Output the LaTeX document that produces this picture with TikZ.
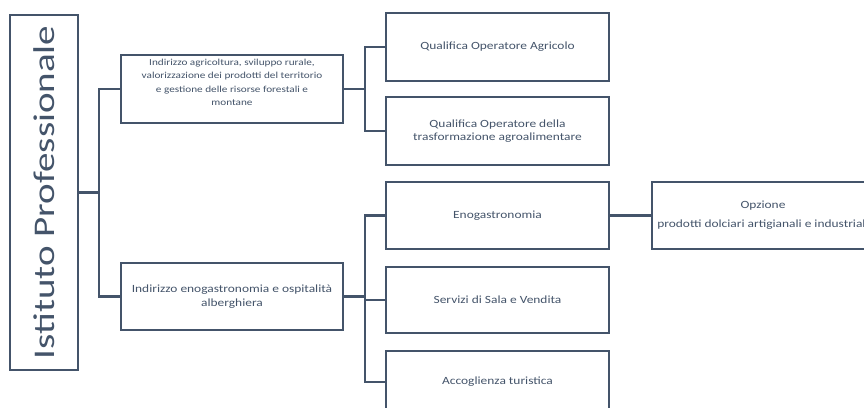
\documentclass[tikz,border=0pt]{standalone}
\usepackage{fontspec}
\setmainfont{Carlito}[FakeStretch=1.22]
\newfontfamily\titlefont{Carlito}[FakeStretch=1.3]
\definecolor{slate}{HTML}{44546A}
\begin{document}
\begin{tikzpicture}[x=1pt,y=-1pt,
  box/.style={draw=slate, line width=2.2pt, fill=white, inner sep=1pt,
    align=center, text=slate, font=\fontsize{11}{13.4}\selectfont},
  link/.style={draw=slate, line width=2.2pt}]
\useasboundingbox (0,0) rectangle (864,407);

% root
\node[box, minimum width=68, minimum height=355, font=\titlefont\fontsize{30}{36}\selectfont]
  (root) at (44,192.5) {\rotatebox{90}{Istituto Professionale}};

% second level
\node[box, minimum width=222, minimum height=68, font=\fontsize{9.2}{13.4}\selectfont]
  (agri) at (232,89)
  {Indirizzo agricoltura, sviluppo rurale,\\
   valorizzazione dei prodotti del territorio\\
   e gestione delle risorse forestali e\\
   montane\\~};
\node[box, minimum width=222, minimum height=67] (eno) at (232,296.5)
  {Indirizzo enogastronomia e ospitalità\\ alberghiera};

% third level
\node[box, minimum width=223, minimum height=68] (qa) at (497.5,47)
  {Qualifica Operatore Agricolo};
\node[box, minimum width=223, minimum height=68] (qb) at (497.5,131)
  {Qualifica Operatore della\\ trasformazione agroalimentare};
\node[box, minimum width=223, minimum height=67] (ea) at (497.5,215.5)
  {Enogastronomia};
\node[box, minimum width=223, minimum height=66] (eb) at (497.5,300)
  {Servizi di Sala e Vendita};
\node[box, minimum width=223, minimum height=62] (ec) at (497.5,382)
  {Accoglienza turistica};

% option
\node[box, minimum width=222, minimum height=67] (opt) at (763,215.5)
  {Opzione\\[5.5pt] prodotti dolciari artigianali e industriali};

% bus columns
\coordinate (bus0) at (99,0);
\coordinate (bus1) at (365,0);

\draw[link] (root.east) -- (root.east -| bus0) |- (agri.west);
\draw[link] (root.east -| bus0) |- (eno.west);

\draw[link] (agri.east) -- (agri.east -| bus1) |- (qa.west);
\draw[link] (agri.east -| bus1) |- (qb.west);

\draw[link] (eno.east) -- (eno.east -| bus1) |- (ea.west);
\draw[link] (eno.east -| bus1) |- (eb.west);
\draw[link] (eno.east -| bus1) |- (ec.west);

\draw[link] (ea.east) -- (opt.west);
\end{tikzpicture}
\end{document}
